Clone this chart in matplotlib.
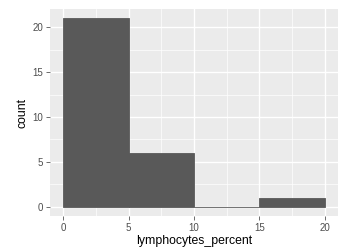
import matplotlib
matplotlib.use("Agg")
import matplotlib.pyplot as plt
import numpy as np

bin_edges = [0, 5, 10, 15, 20]
counts = [21, 6, 0, 1]
x_ticks = [0, 5, 10, 15, 20]
y_ticks = [0, 5, 10, 15, 20]

plt.rcParams['font.family'] = ['Liberation Sans', 'DejaVu Sans']

fig = plt.figure(figsize=(3.39, 2.49), dpi=100)
ax = fig.add_axes([50/339, 33/249, 288/339, 207/249])
ax.set_facecolor('#EBEBEB')

lefts = np.array(bin_edges[:-1])
widths = np.diff(bin_edges)
ax.bar(lefts, counts, width=widths, align='edge', color='#595959',
       edgecolor='#595959', linewidth=0.6, zorder=3)

ax.set_xlim(-1, 21)
ax.set_ylim(-1.05, 22.05)
ax.set_xticks(x_ticks)
ax.set_yticks(y_ticks)
ax.set_xticks([2.5, 7.5, 12.5, 17.5], minor=True)
ax.set_yticks([2.5, 7.5, 12.5, 17.5], minor=True)
ax.grid(which='major', color='white', linewidth=1.0, zorder=0)
ax.grid(which='minor', color='white', linewidth=0.5, zorder=0)
ax.set_axisbelow(True)
for s in ax.spines.values():
    s.set_visible(False)
ax.tick_params(which='major', length=2.75, width=0.5, color='#333333',
               labelsize=7, labelcolor='#4D4D4D', pad=2)
ax.tick_params(which='minor', length=0)
ax.set_xlabel('lymphocytes_percent', fontsize=8.8, color='black', labelpad=2)
ax.set_ylabel('count', fontsize=8.8, color='black', labelpad=3)

fig.savefig('out.png', dpi=100)
